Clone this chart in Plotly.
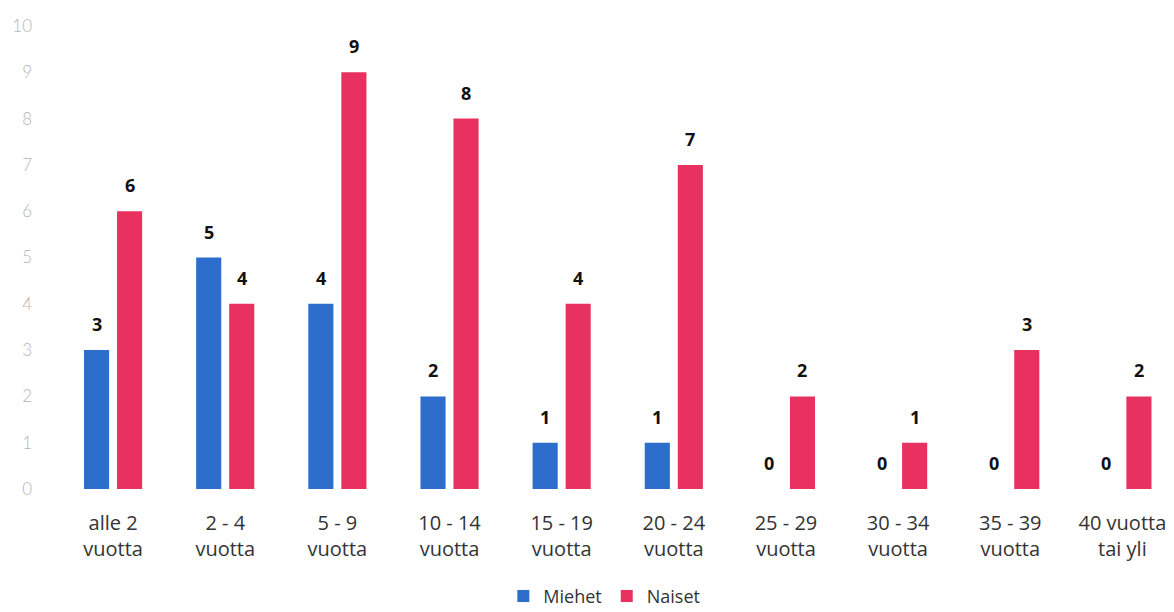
import plotly.graph_objects as go

categories = ["alle 2<br>vuotta", "2 - 4<br>vuotta", "5 - 9<br>vuotta", "10 - 14<br>vuotta",
              "15 - 19<br>vuotta", "20 - 24<br>vuotta", "25 - 29<br>vuotta", "30 - 34<br>vuotta",
              "35 - 39<br>vuotta", "40 vuotta<br>tai yli"]
miehet = [3, 5, 4, 2, 1, 1, 0, 0, 0, 0]
naiset = [6, 4, 9, 8, 4, 7, 2, 1, 3, 2]
y_ticks = [0, 1, 2, 3, 4, 5, 6, 7, 8, 9, 10]

blue = "#2D6ECC"
red = "#E8315F"

fig = go.Figure()
fig.add_trace(go.Bar(name="Miehet", x=categories, y=miehet, marker_color=blue,
                     marker_line_width=0))
fig.add_trace(go.Bar(name="Naiset", x=categories, y=naiset, marker_color=red,
                     marker_line_width=0))

annotations = []
for series, shift in ((miehet, -16.5), (naiset, 16.5)):
    for c, v in zip(categories, series):
        annotations.append(dict(
            x=c, y=v, xref="x", yref="y", text="<b>%d</b>" % v, showarrow=False,
            xshift=shift, yshift=12, yanchor="bottom",
            font=dict(family="Open Sans", size=18, color="#111111")))

# the page body adds an 8px margin, so the figure is sized and offset for it
fig.update_layout(
    width=1166, height=604,
    margin=dict(l=49, r=0, t=18, b=123, autoexpand=False),
    paper_bgcolor="white", plot_bgcolor="white",
    barmode="group", bargap=0.411, bargroupgap=0.24,
    showlegend=True,
    legend=dict(orientation="h", x=0.49, xanchor="center", y=-0.232, yanchor="middle",
                font=dict(family="Open Sans", size=18, color="#333333"),
                itemsizing="constant", itemwidth=30, tracegroupgap=0),
    annotations=annotations,
    xaxis=dict(type="category", range=[-0.5, 9.46], showline=False, ticks="",
               showgrid=False,
               tickfont=dict(family="Open Sans", size=20, color="#333333"),
               ticklabelstandoff=20),
    yaxis=dict(range=[0, 10], tickvals=y_ticks, showgrid=False, zeroline=False,
               showline=False, ticks="",
               tickfont=dict(family="Lato", size=17, color="#B5B5B5", weight=300),
               ticklabelstandoff=24),
)

fig.write_html("out.html")
